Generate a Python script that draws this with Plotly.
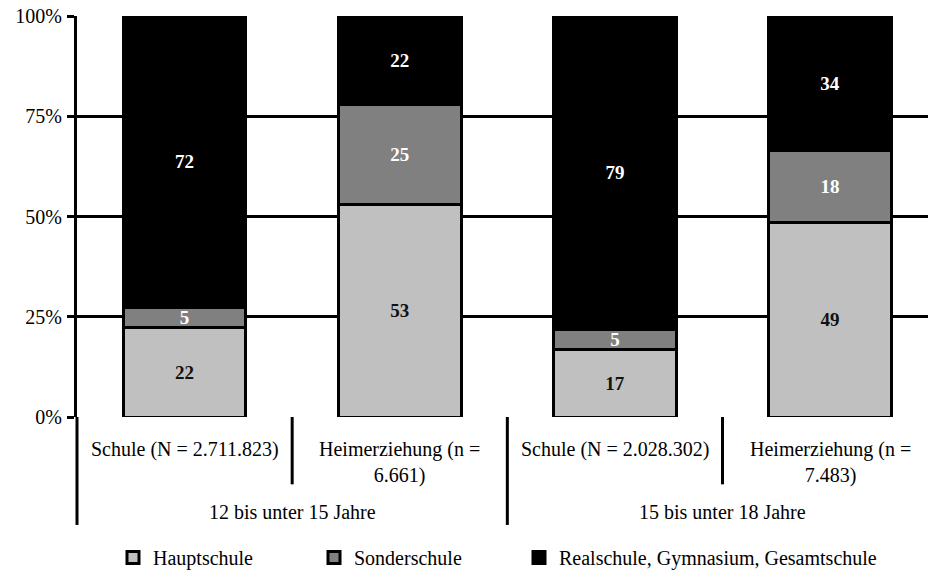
import plotly.graph_objects as go

categories = ["Schule (N = 2.711.823)", "Heimerziehung (n = 6.661)",
              "Schule (N = 2.028.302)", "Heimerziehung (n = 7.483)"]
cat_labels = ["Schule (N = 2.711.823)", "Heimerziehung (n =<br>6.661)",
              "Schule (N = 2.028.302)", "Heimerziehung (n =<br>7.483)"]
groups = ["12 bis unter 15 Jahre", "15 bis unter 18 Jahre"]
group_members = [[0, 1], [2, 3]]

series_names = ["Hauptschule", "Sonderschule", "Realschule, Gymnasium, Gesamtschule"]
hauptschule = [22, 53, 17, 49]
sonderschule = [5, 25, 5, 18]
realschule = [72, 22, 79, 34]
series_values = [hauptschule, sonderschule, realschule]
series_colors = ["#c0c0c0", "#808080", "#000000"]
text_colors = ["#111111", "#ffffff", "#ffffff"]
y_ticks = [0, 25, 50, 75, 100]

FONT = "Liberation Serif"
fig = go.Figure()
legend_ids = ["legend", "legend2", "legend3"]
for name, vals, col, tcol, lg in zip(series_names, series_values, series_colors, text_colors, legend_ids):
    fig.add_trace(go.Bar(
        x=categories, y=vals, name=name, legend=lg,
        marker=dict(color=col, line=dict(color="black", width=3)),
        text=[str(v) for v in vals], textposition="inside", insidetextanchor="middle",
        textangle=0, constraintext="none",
        textfont=dict(family=FONT, size=19, color=tcol, weight="bold"),
        width=0.57,
    ))

fig.update_layout(
    width=928, height=577, margin=dict(l=77, r=0, t=16, b=156),
    barmode="stack", barnorm="percent",
    plot_bgcolor="white", paper_bgcolor="white",
    font=dict(family=FONT, size=20, color="black"),
    showlegend=True,
    xaxis=dict(type="category", range=[-0.5, 3.455], showticklabels=False,
               showgrid=False, zeroline=False, showline=False, ticks=""),
    yaxis=dict(range=[0, 100], tickvals=y_ticks, ticktext=[f"{v}%" for v in y_ticks],
               showgrid=True, gridcolor="black", gridwidth=3, zeroline=False,
               showline=True, linecolor="black", linewidth=3,
               ticks="outside", ticklen=7, tickwidth=3, tickcolor="black",
               tickfont=dict(family=FONT, size=20), ticklabelstandoff=1),
)

legend_x = [153, 354, 559]
for lg, px in zip(legend_ids, legend_x):
    fig.update_layout({lg: dict(x=(px - 40 - 77) / 851, y=(421 - 563) / 405,
                                xanchor="left", yanchor="middle", orientation="h",
                                bgcolor="rgba(0,0,0,0)", borderwidth=0,
                                font=dict(family=FONT, size=20, color="black"))})

def ypaper(py):
    return (421 - py) / 405

# category labels
for cat, lab in zip(categories, cat_labels):
    fig.add_annotation(x=cat, y=ypaper(440), xref="x", yref="paper", text=lab,
                       showarrow=False, yanchor="top", align="center",
                       font=dict(family=FONT, size=20))
# group labels
for g, mem in zip(groups, group_members):
    fig.add_annotation(x=(mem[0] + mem[1]) / 2, y=ypaper(517), xref="x", yref="paper", text=g,
                       showarrow=False, yanchor="middle", font=dict(family=FONT, size=20))

# divider lines below the axis
line = dict(color="black", width=3)
fig.add_shape(type="line", xref="paper", yref="paper", x0=0, x1=0, y0=0, y1=ypaper(530), line=line)
for i in range(1, len(categories)):
    end = 530 if i == 2 else 489
    fig.add_shape(type="line", xref="x", yref="paper", x0=i - 0.5, x1=i - 0.5,
                  y0=0, y1=ypaper(end), line=line)

fig.write_html("out.html")
